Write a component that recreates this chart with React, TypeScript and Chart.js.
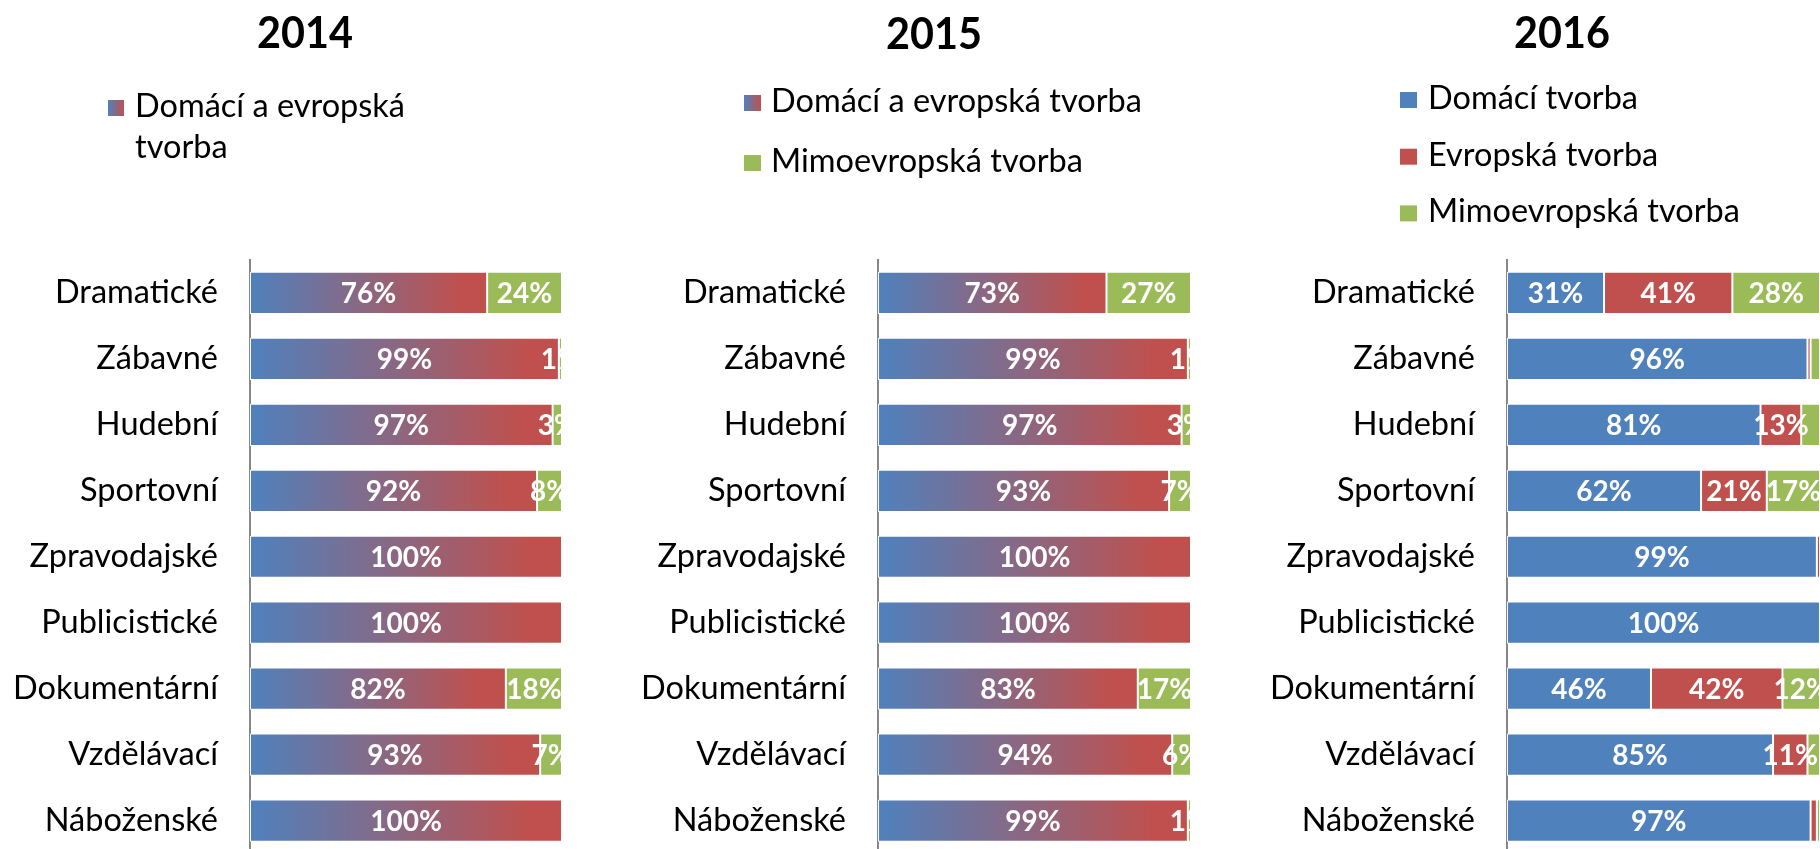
import React, { useEffect, useRef } from 'react';
import { Chart, registerables } from 'chart.js';

Chart.register(...registerables);

// ---------- data ----------
const categories = [
  'Dramatické',
  'Zábavné',
  'Hudební',
  'Sportovní',
  'Zpravodajské',
  'Publicistické',
  'Dokumentární',
  'Vzdělávací',
  'Náboženské',
];

const domEvr2014 = [76, 99, 97, 92, 100, 100, 82, 93, 100];
const mimo2014 = [24, 1, 3, 8, 0, 0, 18, 7, 0];

const domEvr2015 = [73, 99, 97, 93, 100, 100, 83, 94, 99];
const mimo2015 = [27, 1, 3, 7, 0, 0, 17, 6, 1];

const domaci2016 = [31, 96, 81, 62, 99, 100, 46, 85, 97];
const evropska2016 = [41, 1, 13, 21, 1, 0, 42, 11, 2];
const mimo2016 = [28, 3, 6, 17, 0, 0, 12, 4, 1];

const yearTitles = ['2014', '2015', '2016'];

const LBL_DOMEVR = 'Domácí a evropská tvorba';
const LBL_MIMO = 'Mimoevropská tvorba';
const LBL_DOMACI = 'Domácí tvorba';
const LBL_EVROPSKA = 'Evropská tvorba';

// ---------- style ----------
const BLUE = '#4F81BD';
const RED = '#C0504D';
const GREEN = '#9BBB59';
const AXIS = '#868686';
const FONT = 'Lato, "Open Sans", sans-serif';
const TEXT_SIZE = 32.5;

const CANVAS_H = 910;
const PLOT_TOP = 260;
const PLOT_BOTTOM = 853.5;

function gradientFill(ctx: any) {
  const chart = ctx.chart;
  const xs = chart.scales && chart.scales.x;
  if (!chart.chartArea || !xs || ctx.raw == null) return BLUE;
  const x0 = xs.getPixelForValue(0);
  const x1 = xs.getPixelForValue(ctx.raw);
  if (!isFinite(x0) || !isFinite(x1) || x1 - x0 < 1) return BLUE;
  const g = chart.ctx.createLinearGradient(x0, 0, x1, 0);
  g.addColorStop(0, BLUE);
  g.addColorStop(0.9, RED);
  g.addColorStop(1, RED);
  return g;
}

const decorPlugin = {
  id: 'panelDecor',
  afterDraw(chart: any, _args: any, opts: any) {
    const ctx = chart.ctx;
    ctx.save();
    if (opts.title) {
      const t = opts.title;
      ctx.font = `bold ${t.size}px ${FONT}`;
      ctx.fillStyle = '#000';
      ctx.textAlign = 'center';
      ctx.textBaseline = 'alphabetic';
      ctx.translate(t.x, t.y);
      ctx.scale(t.scaleX, 1);
      ctx.fillText(t.text, 0, 0);
      ctx.setTransform(1, 0, 0, 1, 0, 0);
    }
    const lg = opts.legend;
    if (lg) {
      ctx.font = `${lg.size}px ${FONT}`;
      ctx.textAlign = 'left';
      ctx.textBaseline = 'alphabetic';
      lg.items.forEach((it: any, k: number) => {
        const ds = chart.data.datasets[it.dataset];
        const bx = lg.boxX;
        const by = lg.firstBoxY + k * lg.step;
        if (ds.legendFill === 'gradient') {
          const g = ctx.createLinearGradient(bx, 0, bx + lg.boxW, 0);
          g.addColorStop(0, BLUE);
          g.addColorStop(1, RED);
          ctx.fillStyle = g;
        } else {
          ctx.fillStyle = ds.legendFill;
        }
        ctx.fillRect(bx, by, lg.boxW, lg.boxH);
        const words = String(ds.label).split(' ');
        const lines: string[] = [];
        let cur = '';
        words.forEach((w) => {
          const test = cur ? cur + ' ' + w : w;
          if (cur && ctx.measureText(test).width > lg.maxTextW) {
            lines.push(cur);
            cur = w;
          } else cur = test;
        });
        if (cur) lines.push(cur);
        ctx.fillStyle = '#000';
        lines.forEach((ln, li) => {
          ctx.fillText(ln, lg.textX, by + lg.boxH + 1 + li * lg.lineH);
        });
      });
    }
    ctx.restore();
  },
};

const labelPlugin = {
  id: 'segLabels',
  afterDatasetsDraw(chart: any, _args: any, opts: any) {
    const ctx = chart.ctx;
    const area = chart.chartArea;
    ctx.save();
    ctx.beginPath();
    ctx.rect(area.left, area.top, area.right - area.left, area.bottom - area.top);
    ctx.clip();
    ctx.font = `bold ${opts.size}px ${FONT}`;
    ctx.fillStyle = '#FFFFFF';
    ctx.textAlign = 'center';
    ctx.textBaseline = 'middle';
    chart.data.datasets.forEach((ds: any, di: number) => {
      const meta = chart.getDatasetMeta(di);
      meta.data.forEach((el: any, i: number) => {
        const v = ds.data[i];
        if (!v || v < opts.minValue) return;
        const cx = (el.x + el.base) / 2;
        ctx.fillText(`${v}%`, cx, el.y + 1);
      });
    });
    ctx.restore();
  },
};

type Panel = {
  left: number;
  width: number;
  axisX: number;
  padRight: number;
  title: any;
  legend: any;
  minLabel: number;
  datasets: any[];
};

const barCommon = {
  barPercentage: 0.64,
  categoryPercentage: 1,
  borderColor: 'rgba(255,255,255,0.95)',
  borderWidth: 1,
  borderSkipped: false,
};

const panels: Panel[] = [
  {
    left: 0,
    width: 620,
    axisX: 250,
    padRight: 58,
    title: { text: yearTitles[0], x: 305, y: 48, size: 44, scaleX: 0.94 },
    legend: {
      size: TEXT_SIZE,
      boxX: 108,
      firstBoxY: 100,
      boxW: 16,
      boxH: 16,
      textX: 135,
      step: 57,
      lineH: 41,
      maxTextW: 300,
      items: [{ dataset: 0 }],
    },
    minLabel: 1,
    datasets: [
      { label: LBL_DOMEVR, data: domEvr2014, backgroundColor: gradientFill, legendFill: 'gradient', ...barCommon },
      { label: LBL_MIMO, data: mimo2014, backgroundColor: GREEN, legendFill: GREEN, ...barCommon },
    ],
  },
  {
    left: 620,
    width: 620,
    axisX: 258,
    padRight: 49,
    title: { text: yearTitles[1], x: 314, y: 49, size: 44, scaleX: 0.94 },
    legend: {
      size: TEXT_SIZE,
      boxX: 124,
      firstBoxY: 95,
      boxW: 17,
      boxH: 16,
      textX: 151,
      step: 60,
      lineH: 41,
      maxTextW: 600,
      items: [{ dataset: 0 }, { dataset: 1 }],
    },
    minLabel: 1,
    datasets: [
      { label: LBL_DOMEVR, data: domEvr2015, backgroundColor: gradientFill, legendFill: 'gradient', ...barCommon },
      { label: LBL_MIMO, data: mimo2015, backgroundColor: GREEN, legendFill: GREEN, ...barCommon },
    ],
  },
  {
    left: 1240,
    width: 580,
    axisX: 267,
    padRight: 0,
    title: { text: yearTitles[2], x: 322, y: 48, size: 44, scaleX: 0.94 },
    legend: {
      size: TEXT_SIZE,
      boxX: 160,
      firstBoxY: 92,
      boxW: 17,
      boxH: 16,
      textX: 188,
      step: 56.7,
      lineH: 41,
      maxTextW: 600,
      items: [{ dataset: 0 }, { dataset: 1 }, { dataset: 2 }],
    },
    minLabel: 10,
    datasets: [
      { label: LBL_DOMACI, data: domaci2016, backgroundColor: BLUE, legendFill: BLUE, ...barCommon },
      { label: LBL_EVROPSKA, data: evropska2016, backgroundColor: RED, legendFill: RED, ...barCommon },
      { label: LBL_MIMO, data: mimo2016, backgroundColor: GREEN, legendFill: GREEN, ...barCommon },
    ],
  },
];

function PanelChart({ panel }: { panel: Panel }) {
  const ref = useRef<HTMLCanvasElement | null>(null);
  useEffect(() => {
    if (!ref.current) return;
    const chart = new Chart(ref.current, {
      type: 'bar',
      data: {
        labels: categories,
        datasets: panel.datasets as any,
      },
      options: {
        indexAxis: 'y',
        responsive: false,
        maintainAspectRatio: false,
        animation: false,
        devicePixelRatio: 1,
        events: [],
        layout: {
          padding: {
            top: PLOT_TOP,
            bottom: CANVAS_H - PLOT_BOTTOM,
            left: 0,
            right: panel.padRight,
          },
        },
        scales: {
          x: {
            type: 'linear',
            stacked: true,
            min: 0,
            max: 100,
            display: false,
          },
          y: {
            type: 'category',
            stacked: true,
            offset: true,
            grid: { display: false, drawTicks: false },
            border: { display: true, color: AXIS, width: 2 },
            ticks: {
              color: '#000',
              font: { family: FONT, size: TEXT_SIZE },
              padding: 32,
              autoSkip: false,
            },
            afterFit: (s: any) => {
              s.width = panel.axisX;
            },
          },
        },
        plugins: {
          legend: { display: false },
          title: { display: false },
          tooltip: { enabled: false },
          panelDecor: { title: panel.title, legend: panel.legend },
          segLabels: { size: 28, minValue: panel.minLabel },
        } as any,
      },
      plugins: [decorPlugin, labelPlugin],
    });
    return () => chart.destroy();
  }, [panel]);
  return (
    <canvas
      ref={ref}
      width={panel.width}
      height={CANVAS_H}
      style={{ position: 'absolute', left: panel.left, top: 0, width: panel.width, height: CANVAS_H }}
    />
  );
}

export default function App() {
  return (
    <div
      style={{
        position: 'fixed',
        left: 0,
        top: 0,
        width: 1820,
        height: 849,
        overflow: 'hidden',
        background: '#fff',
      }}
    >
      {panels.map((p, i) => (
        <PanelChart key={i} panel={p} />
      ))}
    </div>
  );
}
